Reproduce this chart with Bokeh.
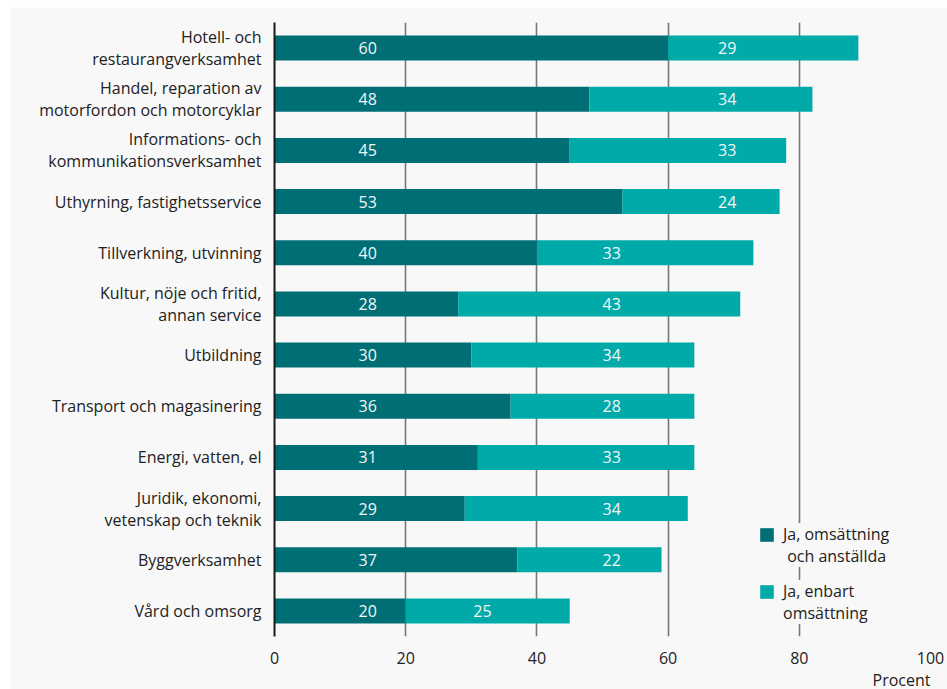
from bokeh.plotting import figure
from bokeh.models import (ColumnDataSource, Range1d, FactorRange, FixedTicker,
                          Legend, LegendItem, Title)
from bokeh.core.properties import value
from bokeh.embed import file_html
from bokeh.resources import INLINE

categories = [
    "Hotell- och\nrestaurangverksamhet",
    "Handel, reparation av\nmotorfordon och motorcyklar",
    "Informations- och\nkommunikationsverksamhet",
    "Uthyrning, fastighetsservice",
    "Tillverkning, utvinning",
    "Kultur, nöje och fritid,\nannan service",
    "Utbildning",
    "Transport och magasinering",
    "Energi, vatten, el",
    "Juridik, ekonomi,\nvetenskap och teknik",
    "Byggverksamhet",
    "Vård och omsorg",
]
omsattning_anstallda = [60, 48, 45, 53, 40, 28, 30, 36, 31, 29, 37, 20]
enbart_omsattning = [29, 34, 33, 24, 33, 43, 34, 28, 33, 34, 22, 25]
series_lines = [["Ja, omsättning", "\u00a0och anställda"], ["Ja, enbart", "omsättning"]]
x_ticks = [0, 20, 40, 60, 80, 100]
x_label = "Procent"

# label placement (style, not data)
dark_label_pos = 14.2
light_label_pos = [69, 69, 69, 69, 51.4, 51.4, 51.4, 51.4, 51.4, 51.4, 51.4, 31.7]

DARK = "#006f75"
LIGHT = "#00aaa9"
BG = "#f8f8f8"
TXT = "#222222"
FONT = "Open Sans"

src = ColumnDataSource(dict(
    cat=categories,
    a=omsattning_anstallda,
    b=enbart_omsattning,
    a_lbl=[str(v) for v in omsattning_anstallda],
    b_lbl=[str(v) for v in enbart_omsattning],
    a_pos=[dark_label_pos] * len(categories),
    b_pos=light_label_pos,
))

p = figure(
    y_range=FactorRange(factors=list(reversed(categories))),
    x_range=Range1d(0, 100),
    frame_width=656, frame_height=614,
    min_border_left=264, min_border_right=17, min_border_top=15, min_border_bottom=10,
    output_backend="svg", toolbar_location=None,
    background_fill_color=BG, border_fill_color=BG, outline_line_color=None,
)
p.margin = (7, 0, 0, 10)

r = p.hbar_stack(["a", "b"], y="cat", height=0.49, color=[DARK, LIGHT],
                 line_color=None, source=src)

# invisible renderer used for second legend lines
blank = p.hbar(y=[], right=[], height=0.5, fill_alpha=0, line_alpha=0)

p.text(x="a_pos", y="cat", text="a_lbl", source=src, text_align="center",
       text_baseline="middle", text_color="#f2f7f7", text_font_size="16px",
       text_font=value(FONT))
p.text(x="b_pos", y="cat", text="b_lbl", source=src, text_align="center",
       text_baseline="middle", text_color="#f2f7f7", text_font_size="16px",
       text_font=value(FONT))

# grid
p.ygrid.grid_line_color = None
p.xgrid.ticker = FixedTicker(ticks=x_ticks)
p.xgrid.grid_line_color = "#777777"
p.xgrid.grid_line_width = 1.6

# x axis
p.xaxis.ticker = FixedTicker(ticks=x_ticks)
p.xaxis.axis_line_color = None
p.xaxis.major_tick_line_color = None
p.xaxis.minor_tick_line_color = None
p.xaxis.major_label_standoff = 9
p.xaxis.major_label_text_font_size = "16px"
p.xaxis.major_label_text_font = FONT
p.xaxis.major_label_text_color = TXT

# y axis
p.yaxis.axis_line_color = "#1a1a1a"
p.yaxis.axis_line_width = 2
p.yaxis.major_tick_line_color = None
p.yaxis.minor_tick_line_color = None
p.yaxis.major_label_standoff = 7
p.yaxis.major_label_text_font_size = "16px"
p.yaxis.major_label_text_font = FONT
p.yaxis.major_label_text_color = TXT
p.yaxis.major_label_text_line_height = 1.0

p.add_layout(Title(text=x_label, align="right", text_font_size="16px",
                   text_font_style="normal", text_font=FONT, text_color=TXT,
                   standoff=0, offset=0), "below")

def make_legend(lines, rend, loc):
    return Legend(
        items=[LegendItem(label=lines[0], renderers=[rend]),
               LegendItem(label=lines[1], renderers=[blank])],
        location=loc, orientation="vertical",
        background_fill_color=BG, background_fill_alpha=1.0,
        border_line_color=None,
        padding=22, spacing=0, margin=0,
        glyph_width=17, glyph_height=17, label_standoff=8,
        label_height=17,
        label_text_font_size="16px", label_text_font=FONT, label_text_color=TXT,
        label_text_line_height=0.95,
    )

p.add_layout(make_legend(series_lines[0], r[0], (484, 69)))
p.add_layout(make_legend(series_lines[1], r[1], (484, 12)))

open("out.html", "w").write(file_html(p, INLINE))
